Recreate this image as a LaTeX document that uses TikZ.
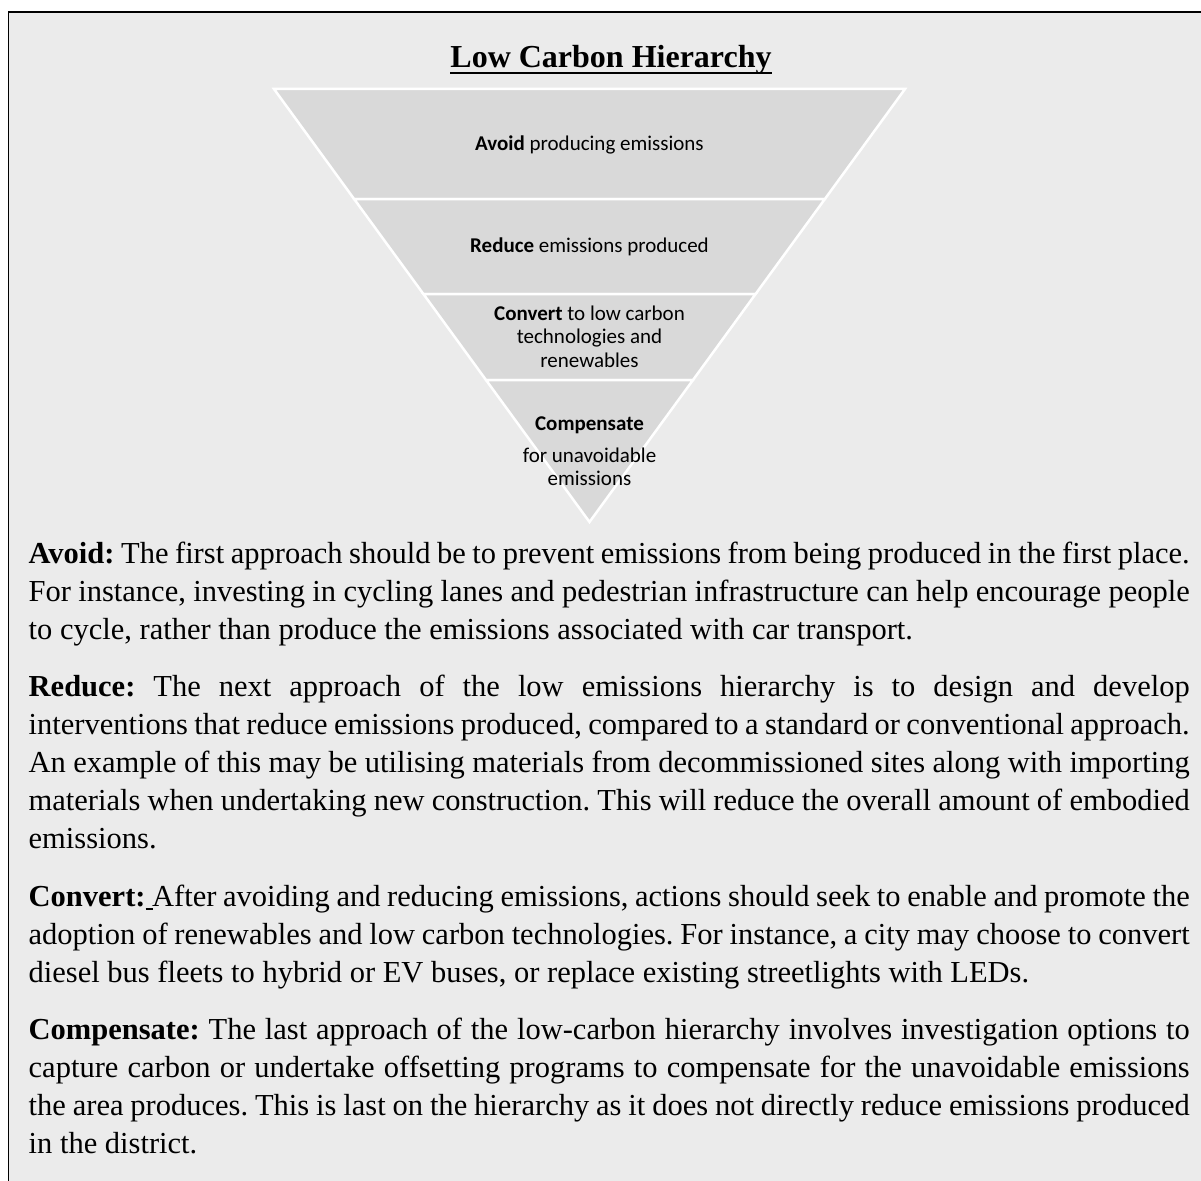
\documentclass[tikz,border=0pt]{standalone}
\usepackage{fontspec}
\setmainfont{Liberation Serif}
\newfontfamily\funnelfont{Carlito}
\definecolor{bggray}{HTML}{EBEBEB}
\definecolor{bandgray}{HTML}{D9D9D9}
\tolerance=10000 \hbadness=10000 \hyphenpenalty=10000 \exhyphenpenalty=10000

\begin{document}
\begin{tikzpicture}[x=1pt, y=-1pt,
    band/.style={fill=bandgray, draw=white, line width=2.5pt},
    lbl/.style={font=\funnelfont\fontsize{21}{23.5}\selectfont, align=center, inner sep=0pt},
    para/.style={anchor=base west, inner sep=0pt, text width=1161pt, align=justify,
      font=\fontsize{30.5}{38.2}\selectfont\frenchspacing}]
    \useasboundingbox (0,0) rectangle (1201,1180);
    \fill[bggray] (8.5,12) rectangle (1210,1190);
    \draw[line width=1.5pt] (8.5,1190) -- (8.5,12) -- (1210,12);

    \path[band] (274,89) -- (905,89) -- (824.9,199) -- (354.1,199) -- cycle;
    \path[band] (354.1,199) -- (824.9,199) -- (755.6,294) -- (423.4,294) -- cycle;
    \path[band] (423.4,294) -- (755.6,294) -- (693,380) -- (486,380) -- cycle;
    \path[band] (486,380) -- (693,380) -- (589.5,522) -- cycle;

    \node[font=\bfseries\fontsize{32}{38}\selectfont, inner sep=0pt, anchor=base] (t) at (611,68) {Low Carbon Hierarchy};
    \draw[line width=2.2pt] ([yshift=-4.7pt]t.base west) -- ([yshift=-4.7pt]t.base east);

    \node[lbl] (a) at (589.5,145) {\textbf{Avoid} producing emissions};
    \node[lbl] (r) at (589.5,247) {\textbf{Reduce} emissions produced};
    \node[lbl] (c) at (589.5,336.5) {\textbf{Convert} to low carbon\\technologies and\\renewables};
    \node[lbl] (o) at (589.5,451) {\textbf{Compensate}\\[8.5pt]for unavoidable\\emissions};

    \node[para] (p1) at (28.5,563) {\textbf{Avoid:} The first approach should be to prevent emissions from being produced in the first place.\linebreak
      For instance, investing in cycling lanes and pedestrian infrastructure can help encourage people\linebreak
      to cycle, rather than produce the emissions associated with car transport.};
    \node[para] (p2) at (28.5,696) {\textbf{Reduce:} The next approach of the low emissions hierarchy is to design and develop\linebreak
      interventions that reduce emissions produced, compared to a standard or conventional approach.\linebreak
      An example of this may be utilising materials from decommissioned sites along with importing\linebreak
      materials when undertaking new construction. This will reduce the overall amount of embodied\linebreak
      emissions.};
    \node[para] (p3) at (28.5,906) {\textbf{Convert:}\rlap{\rule[-3.5pt]{7.5pt}{1.5pt}} After avoiding and reducing emissions, actions should seek to enable and promote the\linebreak
      adoption of renewables and low carbon technologies. For instance, a city may choose to convert\linebreak
      diesel bus fleets to hybrid or EV buses, or replace existing streetlights with LEDs.};
    \node[para] (p4) at (28.5,1039) {\textbf{Compensate:} The last approach of the low-carbon hierarchy involves investigation options to\linebreak
      capture carbon or undertake offsetting programs to compensate for the unavoidable emissions\linebreak
      the area produces. This is last on the hierarchy as it does not directly reduce emissions produced\linebreak
      in the district.};
\end{tikzpicture}
\end{document}
